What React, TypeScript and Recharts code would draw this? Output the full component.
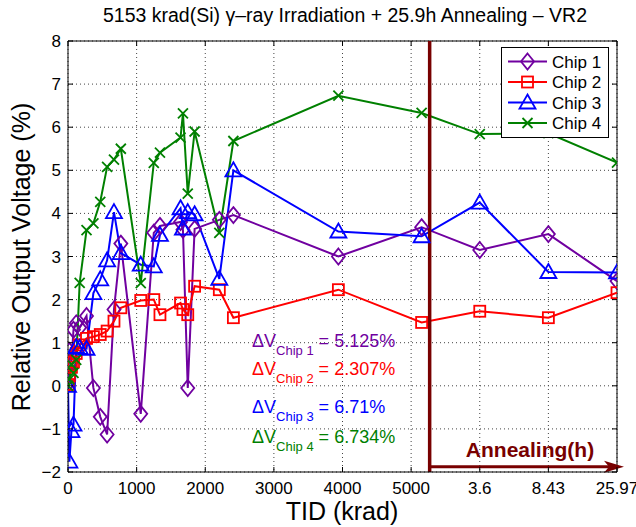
import React from 'react';
import { LineChart, Line, XAxis, YAxis, CartesianGrid, ReferenceLine, Legend } from 'recharts';

const FONT = '"Liberation Sans", Arial, Helvetica, sans-serif';
const PLOT_LEFT = 68;
const PLOT_RIGHT = 617;
const PLOT_TOP = 41;
const PLOT_BOTTOM = 472;

const PURPLE = '#7000a0';
const RED = '#ff0000';
const BLUE = '#0000ff';
const GREEN = '#008000';
const DARK_RED = '#780000';

// irradiation steps (krad), then annealing steps drawn at equal spacing after 5000
const irradiationTid = [0, 20, 50, 80, 120, 170, 270, 370, 470, 570, 670, 770, 1060, 1250, 1340, 1640, 1675, 1745, 1845, 2205, 2410, 3940, 5153];
const annealingPos = [6000, 7000, 8000];
const annealingHours = ['3.6', '8.43', '25.97'];
const annealingStart = 5270;

const xTicks = [0, 1000, 2000, 3000, 4000, 5000, 6000, 7000, 8000];
const xTickLabels = ['0', '1000', '2000', '3000', '4000', '5000', ...annealingHours];
const yTicks = [-2, -1, 0, 1, 2, 3, 4, 5, 6, 7, 8];

const chip1 = [0.05, 0.81, 0.55, 1.3, 1.45, 1.35, 1.62, -0.05, -0.72, -1.13, 1.77, 3.3, -0.65, 3.55, 3.71, 3.8, 3.62, -0.05, 3.64, 3.85, 3.96, 3.0, 3.68, 3.15, 3.52, 2.43];
const chip2 = [0.03, 0.23, 0.43, 0.55, 0.75, 0.95, 1.1, 1.14, 1.19, 1.27, 1.5, 1.81, 1.98, 2.0, 1.65, 1.92, 1.77, 1.65, 2.31, 2.23, 1.58, 2.23, 1.47, 1.73, 1.58, 2.16];
const chip3 = [0.0, -1.76, -1.05, -0.9, 0.9, 0.88, 0.86, 2.15, 2.47, 2.91, 4.03, 3.08, 2.81, 2.77, 3.5, 4.12, 3.65, 4.03, 3.98, 2.48, 5.0, 3.58, 3.47, 4.25, 2.64, 2.63];
const chip4 = [0.0, 0.15, 0.5, 0.3, 0.6, 2.39, 3.61, 3.77, 4.27, 5.08, 5.25, 5.5, 2.38, 5.17, 5.41, 5.76, 6.32, 4.46, 5.9, 3.55, 5.68, 6.73, 6.33, 5.84, 5.86, 5.18];

const deltaLabels = ['5.125%', '2.307%', '6.71%', '6.734%'];

const series = [
  { key: 'chip1', name: 'Chip 1', color: PURPLE, marker: 'diamond', values: chip1 },
  { key: 'chip2', name: 'Chip 2', color: RED, marker: 'square', values: chip2 },
  { key: 'chip3', name: 'Chip 3', color: BLUE, marker: 'triangle', values: chip3 },
  { key: 'chip4', name: 'Chip 4', color: GREEN, marker: 'x', values: chip4 },
];

const xPositions = [...irradiationTid, ...annealingPos];
const data = xPositions.map((x, i) => ({
  x,
  chip1: chip1[i],
  chip2: chip2[i],
  chip3: chip3[i],
  chip4: chip4[i],
}));

function Marker({ type, cx, cy, color }: { type: string; cx: number; cy: number; color: string }) {
  const common = { fill: 'none', stroke: color, strokeWidth: 1.8 };
  if (type === 'diamond')
    return <polygon points={`${cx},${cy - 8} ${cx + 6.5},${cy} ${cx},${cy + 8} ${cx - 6.5},${cy}`} {...common} />;
  if (type === 'square') return <rect x={cx - 5.5} y={cy - 5.5} width={11} height={11} {...common} />;
  if (type === 'triangle')
    return <polygon points={`${cx},${cy - 8} ${cx + 8},${cy + 6} ${cx - 8},${cy + 6}`} {...common} />;
  return <path d={`M${cx - 5},${cy - 5}L${cx + 5},${cy + 5}M${cx - 5},${cy + 5}L${cx + 5},${cy - 5}`} {...common} />;
}

const XTick = (props: any) => {
  const { x, payload } = props;
  const idx = xTicks.indexOf(payload.value);
  return (
    <g>
      <line x1={x} y1={PLOT_BOTTOM} x2={x} y2={PLOT_BOTTOM - 5} stroke="#000" />
      <line x1={x} y1={PLOT_TOP} x2={x} y2={PLOT_TOP + 5} stroke="#000" />
      <text x={x} y={PLOT_BOTTOM + 22} textAnchor="middle" fontSize={17} fontFamily={FONT} fill="#000">
        {xTickLabels[idx]}
      </text>
    </g>
  );
};

const YTick = (props: any) => {
  const { y, payload } = props;
  const v = payload.value as number;
  return (
    <g>
      <line x1={PLOT_LEFT} y1={y} x2={PLOT_LEFT + 5} y2={y} stroke="#000" />
      <line x1={PLOT_RIGHT} y1={y} x2={PLOT_RIGHT - 5} y2={y} stroke="#000" />
      <text x={PLOT_LEFT - 7} y={y + 6} textAnchor="end" fontSize={17} fontFamily={FONT} fill="#000">
        {v < 0 ? `\u2212${-v}` : `${v}`}
      </text>
    </g>
  );
};

const ArrowShape = (props: any) => {
  const { x1, y1, x2 } = props;
  const tip = x2 + 7;
  return (
    <g>
      <line x1={x1} y1={y1} x2={tip - 8} y2={y1} stroke={DARK_RED} strokeWidth={3} />
      <polygon points={`${tip},${y1} ${tip - 20},${y1 - 6} ${tip - 15},${y1} ${tip - 20},${y1 + 6}`} fill={DARK_RED} />
    </g>
  );
};

const LegendBox = () => (
  <svg width={108} height={91} style={{ display: 'block' }}>
    <rect x={0.5} y={0.5} width={107} height={90} fill="#fff" stroke="#000" />
    {series.map((s, i) => {
      const y = 14.5 + i * 20.5;
      return (
        <g key={s.key}>
          <line x1={7} x2={46} y1={y} y2={y} stroke={s.color} strokeWidth={2} />
          <Marker type={s.marker} cx={26.5} cy={y} color={s.color} />
          <text x={51} y={y + 6} fontSize={17} fontFamily={FONT} fill="#000">
            {s.name}
          </text>
        </g>
      );
    })}
  </svg>
);

export default function App() {
  return (
    <div style={{ position: 'absolute', left: 0, top: 0, width: 636, height: 527, background: '#fff' }}>
      <LineChart width={636} height={527} data={data} margin={{ top: PLOT_TOP, right: 636 - PLOT_RIGHT, left: 0, bottom: 0 }}>
        <CartesianGrid stroke="#444" strokeDasharray="1 3" />
        <XAxis
          dataKey="x"
          type="number"
          domain={[0, 8000]}
          ticks={xTicks}
          height={527 - PLOT_BOTTOM}
          tickLine={false}
          tick={<XTick />}
          axisLine={{ stroke: '#000' }}
          allowDataOverflow
        />
        <YAxis
          type="number"
          domain={[-2, 8]}
          ticks={yTicks}
          width={PLOT_LEFT}
          tickLine={false}
          tick={<YTick />}
          axisLine={{ stroke: '#000' }}
          allowDataOverflow
        />
        <ReferenceLine y={8} stroke="#000" />
        <ReferenceLine x={8000} stroke="#000" />
        {series.map((s) => (
          <Line
            key={s.key}
            dataKey={s.key}
            name={s.name}
            stroke={s.color}
            strokeWidth={2}
            type="linear"
            isAnimationActive={false}
            dot={(p: any) => <Marker key={`${s.key}-${p.index}`} type={s.marker} cx={p.cx} cy={p.cy} color={s.color} />}
          />
        ))}
        <ReferenceLine x={annealingStart} stroke={DARK_RED} strokeWidth={3.5} />
        <ReferenceLine
          segment={[{ x: annealingStart, y: -1.88 }, { x: 8000, y: -1.88 }]}
          ifOverflow="visible"
          shape={(p: any) => <ArrowShape {...p} />}
        />
        <Legend
          content={<LegendBox />}
          layout="horizontal"
          verticalAlign="middle"
          align="center"
          wrapperStyle={{ position: 'absolute', left: 501, top: 47, width: 108, height: 91, margin: 0, padding: 0 }}
        />
      </LineChart>
      <svg width={636} height={527} style={{ position: 'absolute', left: 0, top: 0, pointerEvents: 'none' }}>
        <text x={345} y={22} textAnchor="middle" fontSize={19.5} fontFamily={FONT} fill="#000">
          5153 krad(Si) γ–ray Irradiation + 25.9h Annealing – VR2
        </text>
        <text x={342} y={520} textAnchor="middle" fontSize={25} fontFamily={FONT} fill="#000">
          TID (krad)
        </text>
        <text transform="translate(30,257) rotate(-90)" textAnchor="middle" fontSize={25} fontFamily={FONT} fill="#000">
          Relative Output Voltage (%)
        </text>
        <text x={530} y={457} textAnchor="middle" fontSize={21} fontWeight="bold" fontFamily={FONT} fill={DARK_RED}>
          Annealing(h)
        </text>
        {series.map((s, i) => {
          const base = [347, 375, 413, 443][i];
          return (
            <text key={s.key} x={252} y={base} fontSize={18} fontFamily={FONT} fill={s.color}>
              ΔV
              <tspan fontSize={13} dy={8}>
                {s.name}
              </tspan>
              <tspan dy={-8}> = {deltaLabels[i]}</tspan>
            </text>
          );
        })}
      </svg>
    </div>
  );
}
